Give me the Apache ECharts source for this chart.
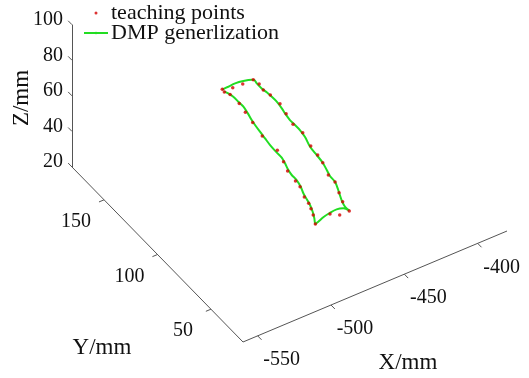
<!DOCTYPE html>
<html>
<head>
<meta charset="utf-8">
<script src="https://cdn.jsdelivr.net/npm/echarts@6/dist/echarts.min.js"></script>
<style>
html, body { margin: 0; padding: 0; background: #fff; }
#main { width: 529px; height: 378px; }
</style>
</head>
<body>
<div id="main"></div>
<script>
// 坐标轴范围与刻度
var xRange = [-560, -380];
var yRange = [20, 180];
var zRange = [20, 100];
var xTicks = [-550, -500, -450, -400];
var yTicks = [50, 100, 150];
var zTicks = [20, 40, 60, 80, 100];

// 示教点
var teachX = [-467.5, -461.7, -455.1, -448.0, -447.2, -448.0, -447.0, -446.4, -448.2, -449.8,
    -449.1, -451.5, -452.4, -453.6, -456.7, -456.8, -459.9, -462.4, -463.6, -470.1,
    -474.3, -486.1, -482.9, -481.0, -479.6, -478.7, -475.9, -475.4, -474.5, -472.1,
    -469.7, -470.2, -468.4, -467.2, -466.0, -466.2, -467.8];
var teachY = [166.3, 164.5, 164.2, 164.1, 159.7, 154.7, 149.5, 141.3, 133.1, 124.4,
    116.3, 105.5, 97.8, 91.4, 81.9, 75.5, 67.5, 60.7, 52.9, 52.9,
    56.2, 53.7, 60.1, 64.8, 68.9, 74.2, 82.0, 87.0, 95.6, 102.7,
    111.8, 125.2, 136.6, 145.1, 152.5, 160.8, 164.0];
var teachZ = [40, 40, 40, 40, 40, 40, 40, 40, 40, 40,
    40, 40, 40, 40, 40, 40, 40, 40, 40, 40,
    40, 40, 40, 40, 40, 40, 40, 40, 40, 40,
    40, 40, 40, 40, 40, 40, 40];

// DMP泛化轨迹
var dmpX = [-467.6, -463.4, -458.5, -453.4, -448.7, -447.6,
    -448.0, -448.0, -447.4, -447.1, -447.0, -447.7, -448.5, -449.3, -449.2, -449.2,
    -450.0, -452.2, -452.9, -453.6, -455.1, -456.4, -456.7, -459.0, -462.1, -463.6, -463.4,
    -465.2, -468.9, -473.7, -479.1, -483.6, -486.1,
    -483.9, -481.6, -479.7, -478.6, -477.4, -475.6, -474.4, -474.4, -473.7, -472.1, -471.0,
    -471.0, -470.7, -470.0, -469.3, -468.5, -467.8, -466.5, -465.5, -465.6, -465.7, -466.5, -467.5];
var dmpY = [166.2, 166.4, 166.7, 166.0, 164.5, 163.6,
    160.8, 156.2, 152.3, 148.0, 143.5, 137.8, 133.7, 128.0, 123.4, 118.8,
    112.9, 105.2, 98.0, 91.4, 85.6, 80.8, 75.7, 69.5, 62.1, 56.8, 53.1,
    56.2, 57.4, 57.0, 55.9, 54.4, 53.7,
    57.7, 62.4, 67.5, 72.0, 76.9, 81.8, 87.3, 91.9, 96.0, 101.3, 105.9,
    110.5, 117.2, 122.9, 128.6, 134.3, 138.4, 143.8, 149.3, 153.9, 158.5, 162.1, 164.5];
var dmpZ = [40, 40, 40, 40, 40, 40,
    40, 40, 40, 40, 40, 40, 40, 40, 40, 40,
    40, 40, 40, 40, 40, 40, 40, 40, 40, 40, 40,
    40, 40, 40, 40, 40, 40,
    40, 40, 40, 40, 40, 40, 40, 40, 40, 40, 40,
    40, 40, 40, 40, 40, 40, 40, 40, 40, 40, 40, 40];

// 视角：盒子角点(xmin,ymin,zmin)与三条棱向量（平面坐标）
var view = {
    origin: [243, 342],
    ex: [264, -111],
    ey: [-171, -175],
    ez: [0, -142.3]
};

var serif = 'Liberation Serif';

// 三维投影到平面
function proj(x, y, z) {
    var tx = (x - xRange[0]) / (xRange[1] - xRange[0]);
    var ty = (y - yRange[0]) / (yRange[1] - yRange[0]);
    var tz = (z - zRange[0]) / (zRange[1] - zRange[0]);
    return [
        view.origin[0] + tx * view.ex[0] + ty * view.ey[0] + tz * view.ez[0],
        view.origin[1] + tx * view.ex[1] + ty * view.ey[1] + tz * view.ez[1]
    ];
}

function projList(xs, ys, zs) {
    var out = [];
    for (var i = 0; i < xs.length; i++) {
        out.push(proj(xs[i], ys[i], zs[i]));
    }
    return out;
}

// 刻度：位置、朝外方向、标签偏移
var ticks = [];
xTicks.forEach(function (v) {
    ticks.push({ pos: proj(v, yRange[0], zRange[0]), dir: proj(v, yRange[0] - 10, zRange[0]),
        label: String(v), dx: 24, dy: 24, align: 'center' });
});
yTicks.forEach(function (v) {
    ticks.push({ pos: proj(xRange[0], v, zRange[0]), dir: proj(xRange[0] - 10, v, zRange[0]),
        label: String(v), dx: -28, dy: 22, align: 'center' });
});
zTicks.forEach(function (v) {
    ticks.push({ pos: proj(xRange[0], yRange[1], v), dir: proj(xRange[0], yRange[1] + 10, v),
        label: String(v), dx: -9, dy: -5, align: 'right' });
});

function renderTick(params, api) {
    var t = ticks[params.dataIndex];
    var p = api.coord(t.pos);
    var q = api.coord(t.dir);
    var dx = q[0] - p[0], dy = q[1] - p[1];
    var len = Math.sqrt(dx * dx + dy * dy);
    var L = 5.5;
    return {
        type: 'group',
        children: [{
            type: 'line',
            shape: { x1: p[0], y1: p[1], x2: p[0] + dx / len * L, y2: p[1] + dy / len * L },
            style: { stroke: '#555', lineWidth: 1 }
        }, {
            type: 'text',
            x: p[0] + t.dx,
            y: p[1] + t.dy,
            style: {
                text: t.label,
                fill: '#111',
                font: '20px "' + serif + '"',
                align: t.align,
                verticalAlign: 'middle'
            }
        }]
    };
}

var corner = proj(xRange[0], yRange[0], zRange[0]);
var axisLines = [
    { coords: [corner, proj(xRange[1], yRange[0], zRange[0])] },
    { coords: [corner, proj(xRange[0], yRange[1], zRange[0])] },
    { coords: [proj(xRange[0], yRange[1], zRange[0]), proj(xRange[0], yRange[1], zRange[1])] }
];

var myChart = echarts.init(document.getElementById('main'));

var option = {
    animation: false,
    backgroundColor: '#fff',
    grid: { left: 0, right: 0, top: 0, bottom: 0 },
    xAxis: { type: 'value', min: 0, max: 529, show: false },
    yAxis: { type: 'value', min: 0, max: 378, inverse: true, show: false },
    legend: {
        data: ['teaching points', 'DMP generlization'],
        orient: 'vertical',
        left: 83,
        top: 2,
        padding: 0,
        itemWidth: 24,
        itemHeight: 3,
        itemGap: -2,
        textStyle: { fontFamily: serif, fontSize: 22, color: '#111', padding: [0, 0, 0, -2] }
    },
    graphic: [
        { type: 'text', x: 408, y: 363, style: { text: 'X/mm', font: '23px "' + serif + '"', fill: '#111', align: 'center', verticalAlign: 'middle' } },
        { type: 'text', x: 102, y: 348, style: { text: 'Y/mm', font: '23px "' + serif + '"', fill: '#111', align: 'center', verticalAlign: 'middle' } },
        { type: 'text', x: 22, y: 98, rotation: Math.PI / 2, style: { text: 'Z/mm', font: '23px "' + serif + '"', fill: '#111', align: 'center', verticalAlign: 'middle' } }
    ],
    series: [{
        type: 'lines',
        coordinateSystem: 'cartesian2d',
        silent: true,
        lineStyle: { color: '#555', width: 1, opacity: 1 },
        data: axisLines
    }, {
        type: 'custom',
        silent: true,
        renderItem: renderTick,
        data: ticks.map(function (t) { return t.pos; })
    }, {
        name: 'DMP generlization',
        type: 'line',
        symbol: 'none',
        smooth: 0.3,
        lineStyle: { color: '#22dd22', width: 2 },
        itemStyle: { color: '#22dd22' },
        data: projList(dmpX, dmpY, dmpZ),
        z: 3
    }, {
        name: 'teaching points',
        type: 'scatter',
        symbol: 'circle',
        symbolSize: 3.5,
        itemStyle: { color: '#d40000' },
        data: projList(teachX, teachY, teachZ),
        z: 4
    }]
};

myChart.setOption(option);
</script>
</body>
</html>
